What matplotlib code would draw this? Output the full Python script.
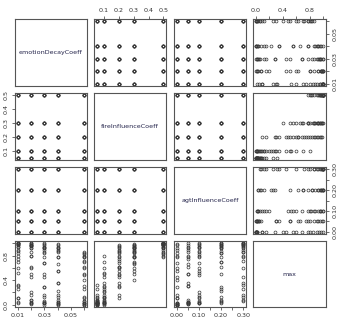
import matplotlib
matplotlib.use("Agg")
import matplotlib.pyplot as plt
import numpy as np

# parameter grid levels
emotion_levels = [0.01, 0.02, 0.03, 0.04, 0.06]
fire_levels = [0.05, 0.1, 0.2, 0.3, 0.5]
agt_levels = [0.0, 0.05, 0.1, 0.2, 0.3]

# max value per run, one list per fire level (rows: emotion, cols: agt)
max_fire_005 = [[0.02, 0.05, 0.10, 0.25, 0.32],
                [0.01, 0.02, 0.04, 0.08, 0.15],
                [0.00, 0.02, 0.03, 0.06, 0.12],
                [0.00, 0.01, 0.02, 0.04, 0.08],
                [0.00, 0.01, 0.02, 0.03, 0.06]]
max_fire_010 = [[0.10, 0.30, 0.52, 0.70, 0.80],
                [0.02, 0.08, 0.20, 0.50, 0.60],
                [0.02, 0.05, 0.15, 0.28, 0.45],
                [0.01, 0.04, 0.12, 0.22, 0.35],
                [0.00, 0.02, 0.06, 0.12, 0.25]]
max_fire_020 = [[0.60, 0.75, 0.88, 0.95, 0.98],
                [0.45, 0.62, 0.80, 0.92, 0.96],
                [0.28, 0.50, 0.68, 0.84, 0.90],
                [0.15, 0.35, 0.55, 0.78, 0.86],
                [0.10, 0.30, 0.48, 0.62, 0.72]]
max_fire_030 = [[0.85, 0.90, 0.95, 0.98, 0.99],
                [0.80, 0.86, 0.92, 0.96, 0.98],
                [0.68, 0.78, 0.86, 0.92, 0.95],
                [0.55, 0.66, 0.78, 0.88, 0.92],
                [0.40, 0.50, 0.60, 0.70, 0.78]]
max_fire_050 = [[0.99, 1.00, 1.00, 1.00, 1.00],
                [0.97, 0.98, 0.99, 1.00, 1.00],
                [0.93, 0.95, 0.97, 0.99, 1.00],
                [0.90, 0.92, 0.95, 0.97, 0.99],
                [0.78, 0.80, 0.82, 0.84, 0.86]]

names = ["emotionDecayCoeff", "fireInfluenceCoeff", "agtInfluenceCoeff", "max"]

emotion, fire, agt, mx = [], [], [], []
for f, table in zip(fire_levels, [max_fire_005, max_fire_010, max_fire_020,
                                  max_fire_030, max_fire_050]):
    for i, e in enumerate(emotion_levels):
        for j, a in enumerate(agt_levels):
            emotion.append(e)
            fire.append(f)
            agt.append(a)
            mx.append(table[i][j])
cols = [np.array(emotion), np.array(fire), np.array(agt), np.array(mx)]

# ticks and labels for each variable
ticks = [[0.01, 0.02, 0.03, 0.04, 0.05, 0.06],
         [0.1, 0.2, 0.3, 0.4, 0.5],
         [0.0, 0.05, 0.10, 0.15, 0.20, 0.25, 0.30],
         [0.0, 0.2, 0.4, 0.6, 0.8, 1.0]]
tick_labels = [["0.01", "", "0.03", "", "0.05", ""],
               ["0.1", "0.2", "0.3", "0.4", "0.5"],
               ["0.00", "", "0.10", "", "0.20", "", "0.30"],
               ["0.0", "", "0.4", "", "0.8", ""]]

W, H = 345, 323
xs = [(15, 87), (94, 166), (174, 246), (253, 326)]
ys = [(19, 86), (93, 160), (167, 234), (241, 307)]

fig = plt.figure(figsize=(W / 100, H / 100), dpi=100)
fig.patch.set_facecolor("white")

def lims(v):
    lo, hi = v.min(), v.max()
    pad = (hi - lo) * 0.04
    return lo - pad, hi + pad

box_col = "#555555"
for r in range(4):
    for c in range(4):
        x0, x1 = xs[c]
        y0, y1 = ys[r]
        ax = fig.add_axes([x0 / W, 1 - y1 / H, (x1 - x0) / W, (y1 - y0) / H])
        for s in ax.spines.values():
            s.set_color(box_col)
            s.set_linewidth(0.8)
        ax.set_xticks([])
        ax.set_yticks([])
        if r == c:
            ax.set_xlim(0, 1)
            ax.set_ylim(0, 1)
            ax.text(0.5, 0.5, names[r], ha="center", va="center",
                    fontsize=4.6, color="#23234a")
        else:
            ax.plot(cols[c], cols[r], "o", mfc="none", mec="#383838",
                    ms=2.1, mew=0.5)
            ax.set_xlim(lims(cols[c]))
            ax.set_ylim(lims(cols[r]))
        # outer axes like R pairs()
        kw = dict(labelsize=4.6, length=2.5, width=0.5, colors="#333333",
                  pad=2)
        if r == 0 and c % 2 == 1:
            ax.set_xticks(ticks[c])
            ax.set_xticklabels(tick_labels[c])
            ax.xaxis.tick_top()
            ax.tick_params(axis="x", **kw)
        if r == 3 and c % 2 == 0:
            ax.set_xticks(ticks[c])
            ax.set_xticklabels(tick_labels[c])
            ax.tick_params(axis="x", **kw)
        if c == 0 and r % 2 == 1:
            ax.set_yticks(ticks[r])
            ax.set_yticklabels(tick_labels[r], rotation=90, va="center")
            ax.tick_params(axis="y", **kw)
        if c == 3 and r % 2 == 0:
            ax.set_yticks(ticks[r])
            ax.set_yticklabels(tick_labels[r], rotation=90, va="center")
            ax.yaxis.tick_right()
            ax.tick_params(axis="y", **kw)

fig.savefig("out.png", dpi=100, facecolor="white")
